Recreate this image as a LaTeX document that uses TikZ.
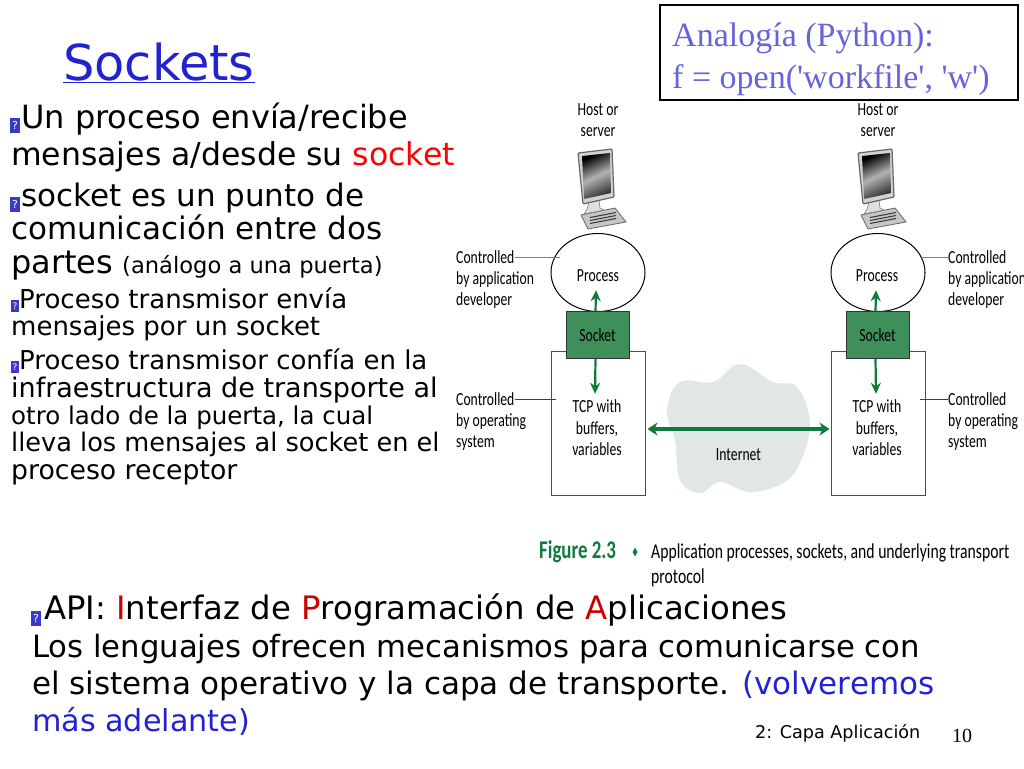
\documentclass[tikz,border=0pt]{standalone}
\usepackage{fontspec}
\setmainfont{DejaVu Sans}
\newfontfamily\serifface{Liberation Serif}
\newfontfamily\figface[FakeStretch=0.74]{Carlito}
\usetikzlibrary{arrows.meta}
\usetikzlibrary{positioning}
\usetikzlibrary{shapes.geometric}
\definecolor{sockgreen}{HTML}{3F8F5A}
\definecolor{arrowgreen}{HTML}{0F7A3C}
\definecolor{boxblue}{HTML}{6464DC}
\definecolor{titleblue}{HTML}{2222D0}
\definecolor{cloudgray}{HTML}{E0E7E6}
\definecolor{bulletblue}{HTML}{3A3AC8}
\newcommand{\fsize}[1]{\fontsize{#1}{#1}\selectfont}
\tikzset{
  linebase/.style={anchor=base west,inner sep=0pt},
  linebig/.style={linebase,font=\fsize{31}},
  linemid/.style={linebase,font=\fsize{26}},
  bulletbox/.style={fill=bulletblue,text=white,inner sep=0pt,minimum width=10pt,minimum height=15pt,font=\fsize{11}},
  bulletsmall/.style={bulletbox,minimum width=8pt,minimum height=12pt,font=\fsize{9}},
  figtext/.style={inner sep=0pt,font=\figface\fsize{18.5}},
  figleft/.style={figtext,align=left,anchor=north west},
  leader/.style={draw=gray,line width=1pt},
  upflow/.style={draw=arrowgreen,line width=2.2pt,-{Stealth[length=11pt,width=10pt]}},
  netflow/.style={draw=arrowgreen,line width=4pt,{Stealth[length=10pt,width=13pt]}-{Stealth[length=10pt,width=13pt]}},
  hostbox/.style={draw=black!70,fill=white,line width=1pt,minimum width=94pt,minimum height=144pt,inner sep=0pt},
  sockbox/.style={draw=black!80,fill=sockgreen,line width=1pt,minimum width=63pt,minimum height=47pt,inner sep=0pt,figtext},
  procell/.style={ellipse,draw=black,fill=white,line width=1pt,minimum width=94pt,minimum height=78pt,inner sep=0pt},
  pics/monitor/.style={code={
    % keyboard
    \draw[black!60,fill=gray!45,line width=0.8pt] (-17,215) -- (17,208) -- (28,222) -- (-10,229) -- cycle;
    \foreach \k in {0,1,2}
      \draw[black!80,line width=1pt] (-8,{217.5+\k*3}) -- (18,{212.5+\k*3});
    % stand
    \draw[black!50,fill=gray!25,line width=0.6pt] (-9,202) -- (1,200) -- (2,208) -- (6,210) -- (-14,214) -- (-11,209) -- cycle;
    % screen
    \draw[black!60,fill=gray!35,line width=1.2pt,rounded corners=1pt] (-20,153) -- (14,149) -- (16,197) -- (-15,204) -- cycle;
    \shade[left color=black,right color=black!80,middle color=gray!60,shading angle=25] (-16,156) -- (12,153) -- (13,193) -- (-14,199) -- cycle;
  }}
}
\begin{document}
\begin{tikzpicture}[x=1pt,y=-1pt]
  \useasboundingbox (0,0) rectangle (1024,768);

  % Left hand text
  \node[linebase,text=titleblue,font=\fsize{49.5}] (title) at (63,80) {\underline{Sockets}};

  \node[bulletbox] (b1) at (15,125.5) {?};
  \node[linebig,font=\fsize{32}] (t1) at (21,128) {Un proceso envía/recibe};
  \node[linebig,font=\fsize{31.5}] (t2) at (11,165) {mensajes a/desde su \textcolor{red}{socket}};
  \node[bulletbox] (b2) at (15,204.5) {?};
  \node[linebig] (t3) at (21,206) {socket es un punto de};
  \node[linebig] (t4) at (11,239) {comunicación entre dos};
  \node[linebig,font=\fsize{32}] (t5) at (11,273) {partes};
  \node[linebase,font=\fsize{22.6}] (t5b) at (122,273) {(análogo a una puerta)};
  \node[bulletsmall] (b3) at (15,306) {?};
  \node[linemid] (t6) at (19,308) {Proceso transmisor envía};
  \node[linemid] (t7) at (11,335) {mensajes por un socket};
  \node[bulletsmall] (b4) at (15,367) {?};
  \node[linemid] (t8) at (19,369) {Proceso transmisor confía en la};
  \node[linemid,font=\fsize{27}] (t9) at (11,397) {infraestructura de transporte al};
  \node[linemid,font=\fsize{24.5}] (t10) at (11,424) {otro lado de la puerta, la cual};
  \node[linemid,font=\fsize{25.6}] (t11) at (11,451) {lleva los mensajes al socket en el};
  \node[linemid,font=\fsize{26.7}] (t12) at (11,479) {proceso receptor};

  % Bottom text
  \node[bulletbox] (b5) at (36,618) {?};
  \node[linebig,font=\fsize{32.3}] (a1) at (44,619) {API: \textcolor{red!80!black}{I}nterfaz de \textcolor{red!80!black}{P}rogramación de \textcolor{red!80!black}{A}plicaciones};
  \node[linebig,font=\fsize{30.7}] (a2) at (32,657) {Los lenguajes ofrecen mecanismos para comunicarse con};
  \node[linebig] (a3) at (32,694) {el sistema operativo y la capa de transporte. \textcolor{titleblue}{(volveremos}};
  \node[linebig,text=titleblue,font=\fsize{30.2}] (a4) at (32,731) {más adelante)};
  \node[linebase,font=\fsize{17.6}] (foot) at (755,738) {2: Capa Aplicación};
  \node[linebase,font=\serifface\fsize{20}] (pagenum) at (952,742) {10};

  % Python box
  \node[draw=black,line width=2.5pt,minimum width=358pt,minimum height=95pt,inner sep=0pt] (pybox) at (839,52.5) {};
  \node[linebase,text=boxblue,font=\serifface\fsize{34}] (py1) at (672,46) {Analogía (Python):};
  \node[linebase,text=boxblue,font=\serifface\fsize{34}] (py2) at (672,88) {f = open('workfile', 'w')};

  % Internet cloud
  \draw[draw=none,fill=cloudgray] plot[smooth cycle,tension=0.65] coordinates {
    (667,410) (680,382) (713,382) (740,364) (773,382) (797,387) (810,423)
    (800,463) (783,483) (750,492) (720,482) (700,493) (680,480) (675,440)};
  \node[figtext] (net) at (738.5,455) {Internet};

  % Left host
  \node[figtext,align=center] (hostL) at (598,120) {Host or\\[3pt]server};
  \pic at (598,0) {monitor};
  \node[procell] (procL) at (598,272.5) {};
  \node[figtext] (procTL) at (598,276) {Process};
  \node[hostbox] (tcpL) at (598,423) {};
  \node[sockbox] (sockL) at (597.5,335) {Socket};
  \node[figtext,align=center] (bufL) at (597,428) {TCP with\\[3pt]buffers,\\[3pt]variables};

  % Right host
  \node[figtext,align=center] (hostR) at (878,120) {Host or\\[3pt]server};
  \pic at (878,0) {monitor};
  \node[procell] (procR) at (878,272.5) {};
  \node[figtext] (procTR) at (877,276) {Process};
  \node[hostbox] (tcpR) at (878,423) {};
  \node[sockbox] (sockR) at (877.5,335) {Socket};
  \node[figtext,align=center] (bufR) at (877,428) {TCP with\\[3pt]buffers,\\[3pt]variables};

  % Side labels
  \node[figtext,anchor=west] (appL) at (456,257) {Controlled};
  \node[figleft] (appL2) at (456,271) {by application\\[3pt]developer};
  \node[figtext,anchor=west] (osL) at (456,399) {Controlled};
  \node[figleft] (osL2) at (456,413) {by operating\\[3pt]system};
  \node[figtext,anchor=west] (appR) at (948,257) {Controlled};
  \node[figleft] (appR2) at (948,271) {by application\\[3pt]developer};
  \node[figtext,anchor=west] (osR) at (948,399) {Controlled};
  \node[figleft] (osR2) at (948,413) {by operating\\[3pt]system};

  \coordinate (inProcL) at (560,257);
  \coordinate (inTcpL) at (556,399);
  \coordinate (inProcR) at (920,257);
  \coordinate (inTcpR) at (920,399);
  \draw[leader] (appL.east) -- (inProcL);
  \draw[leader,draw=black!75] (osL.east) -- (inTcpL);
  \draw[leader] (appR.west) -- (inProcR);
  \draw[leader,draw=black!75] (osR.west) -- (inTcpR);

  % Flows
  \draw[upflow] (sockL.north) ++(-2,0) -- ([xshift=-2pt,yshift=-8pt]procTL.south);
  \draw[upflow] (sockL.south) ++(-2,0) -- ([xshift=-2pt,yshift=6pt]bufL.north);
  \draw[upflow] (sockR.north) ++(-2,0) -- ([xshift=-1pt,yshift=-8pt]procTR.south);
  \draw[upflow] (sockR.south) ++(-2,0) -- ([xshift=-1pt,yshift=6pt]bufR.north);
  \draw[netflow] ([yshift=-6pt,xshift=2pt]tcpL.east) -- ([yshift=-6pt,xshift=-1pt]tcpR.west);

  % Caption
  \node[linebase,text=arrowgreen,font=\figface\bfseries\fsize{25.5}] (figno) at (539,558) {Figure 2.3};
  \node[diamond,fill=arrowgreen,inner sep=0pt,minimum width=5pt,minimum height=9pt] (figdot) at (635,552) {};
  \node[linebase,font=\figface\fsize{21.2}] (figcap) at (651,558) {Application processes, sockets, and underlying transport};
  \node[linebase,font=\figface\fsize{21.2}] (figcap2) at (651,583) {protocol};
\end{tikzpicture}
\end{document}
